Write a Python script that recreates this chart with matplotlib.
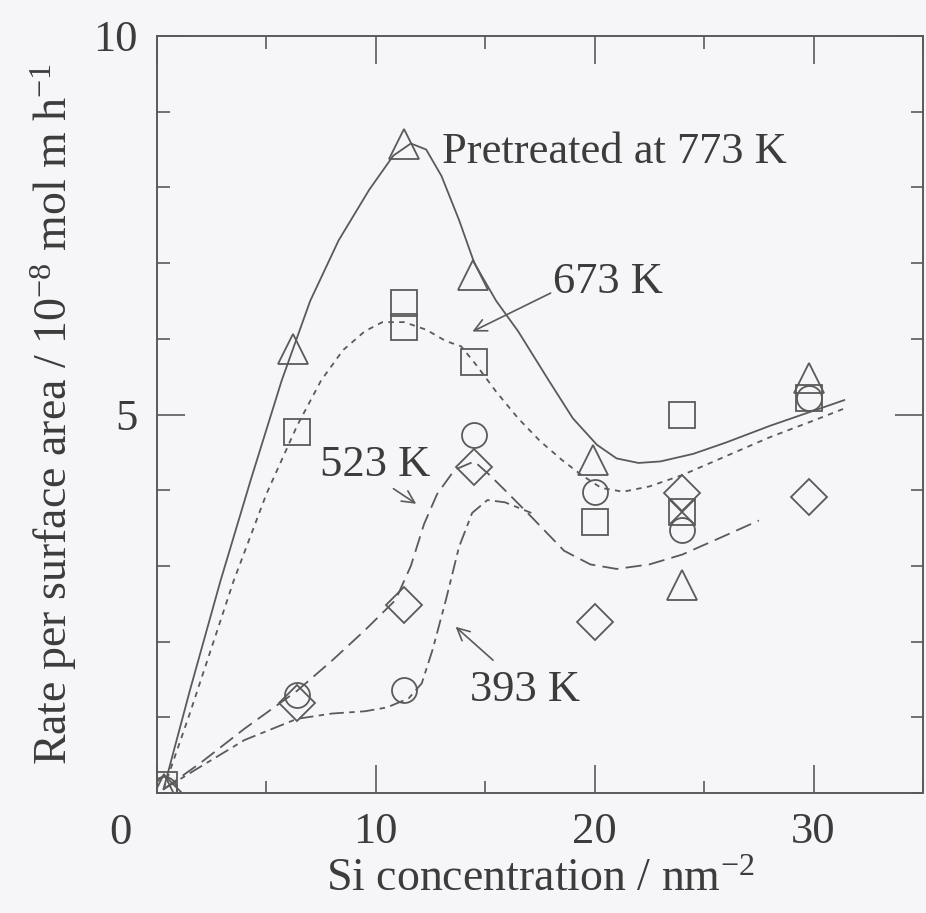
import numpy as np
import matplotlib
matplotlib.use("Agg")
from matplotlib import pyplot as plt
from matplotlib.ticker import MultipleLocator
from matplotlib.transforms import ScaledTranslation

# measured points (Si concentration / nm^-2, rate)
x_773 = [0.3, 6.2, 11.3, 14.45, 19.9, 24.0, 29.8]
y_773 = [0.05, 5.87, 8.57, 6.84, 4.40, 2.75, 5.48]

x_673 = [0.3, 6.4, 11.3, 11.3, 14.5, 20.0, 24.0, 29.8]
y_673 = [0.10, 4.77, 6.47, 6.16, 5.69, 3.58, 4.99, 5.22]

x_523 = [0.3, 6.4, 11.3, 14.5, 20.0, 24.0, 29.8]
y_523 = [0.0, 1.19, 2.48, 4.30, 2.26, 3.96, 3.91]

x_393 = [0.3, 6.4, 11.3, 14.5, 20.0, 24.0, 29.8]
y_393 = [0.05, 1.30, 1.36, 4.73, 3.97, 3.47, 5.22]

x_cross = [24.0]
y_cross = [3.71]

x_ticks = [0, 10, 20, 30]
x_ticklabels = ['', '10', '20', '30']
y_ticks = [5, 10]
y_ticklabels = ['5', '10']

# hand drawn guide curves
cx_773 = [0.3, 1.5, 2.9, 4.3, 5.7, 7.0, 8.3, 9.7, 10.8, 11.6, 12.3, 13.0, 13.8, 14.5, 15.5,
          16.5, 17.9, 19.0, 20.1, 21.0, 22.0, 23.0, 24.5, 26.0, 28.0, 30.0, 31.4]
cy_773 = [0.05, 1.35, 2.8, 4.15, 5.45, 6.5, 7.3, 7.97, 8.42, 8.58, 8.5, 8.15, 7.57, 7.0, 6.5,
          6.1, 5.45, 4.95, 4.6, 4.42, 4.36, 4.38, 4.48, 4.63, 4.85, 5.05, 5.19]

cx_673 = [0.3, 1.5, 3.5, 5.0, 6.4, 7.5, 8.5, 9.5, 10.3, 11.3, 12.3, 13.2, 13.9, 14.6, 15.5,
          16.5, 17.5, 18.5, 19.4, 20.3, 21.3, 22.5, 24.0, 26.0, 28.0, 30.0, 31.5]
cy_673 = [0.05, 1.05, 2.8, 3.95, 4.85, 5.45, 5.85, 6.1, 6.22, 6.22, 6.12, 5.97, 5.9, 5.65, 5.3,
          4.95, 4.65, 4.4, 4.2, 4.03, 3.98, 4.05, 4.2, 4.45, 4.7, 4.92, 5.09]

cx_523 = [0.3, 2.0, 4.0, 6.4, 8.0, 9.5, 10.9, 11.6, 12.2, 12.8, 13.6, 14.5, 15.2, 15.9, 17.1,
          18.6, 19.8, 21.0, 22.5, 24.0, 25.8, 27.5]
cy_523 = [0.05, 0.4, 0.85, 1.35, 1.75, 2.15, 2.55, 3.0, 3.55, 3.95, 4.27, 4.38, 4.2, 4.0, 3.65,
          3.2, 3.02, 2.96, 3.02, 3.15, 3.38, 3.6]

cx_393 = [0.3, 2.0, 4.0, 6.4, 8.0, 9.5, 10.5, 11.5, 12.1, 12.6, 13.2, 13.8, 14.4, 15.1, 15.9, 17.1]
cy_393 = [0.05, 0.35, 0.7, 0.98, 1.05, 1.08, 1.13, 1.25, 1.45, 1.9, 2.55, 3.25, 3.7, 3.87, 3.84, 3.7]

plt.rcParams['font.family'] = ['Liberation Serif', 'DejaVu Serif']
plt.rcParams['mathtext.fontset'] = 'custom'
plt.rcParams['mathtext.rm'] = 'Liberation Serif'
plt.rcParams['mathtext.default'] = 'regular'
grey = '#5a5a5a'
text_c = '#3c3c3c'

fig = plt.figure(figsize=(9.26, 9.13), dpi=100, facecolor='#f6f5f7')
ax = fig.add_axes([0.1695, 0.1314, 0.8273, 0.8292])
ax.set_facecolor('#f6f5f7')

ax.plot(cx_773, cy_773, color=grey, lw=1.3, ls='-')
ax.plot(cx_673, cy_673, color=grey, lw=1.3, ls=(0, (3, 3)))
ax.plot(cx_523, cy_523, color=grey, lw=1.3, ls=(0, (9, 4)))
ax.plot(cx_393, cy_393, color=grey, lw=1.3, ls=(0, (8, 3, 3, 3)))

mk = dict(ls='none', mfc='none', mec=grey, mew=1.3)
ax.plot(x_773, y_773, marker='^', ms=21, **mk)
ax.plot(x_673, y_673, marker='s', ms=19, **mk)
ax.plot(x_523, y_523, marker='D', ms=18, **mk)
ax.plot(x_393, y_393, marker='o', ms=18, **mk)
ax.plot(x_cross, y_cross, marker='s', ms=19, **mk)
ax.plot(x_cross, y_cross, marker='x', ms=17, **mk)

ax.set_xlim(0, 35)
ax.set_ylim(0, 10)
ax.set_xticks(x_ticks)
ax.set_xticklabels(x_ticklabels)
ax.xaxis.set_minor_locator(MultipleLocator(5))
ax.yaxis.set_minor_locator(MultipleLocator(1))
ax.set_yticks(y_ticks)
ax.set_yticklabels(y_ticklabels)
ax.tick_params(which='both', direction='in', top=True, right=True, color=grey,
               labelsize=32, labelcolor=text_c, pad=14)
ax.tick_params(which='major', length=20, width=1.2)
ax.tick_params(which='minor', length=9, width=1.2)
for s in ax.spines.values():
    s.set_color(grey)
    s.set_linewidth(1.4)

# the corner "0" stands well left of the origin
ax.text(0, 0, '0', fontsize=32, color=text_c, ha='center', va='top',
        transform=ax.transData + ScaledTranslation(-0.37, -0.2, fig.dpi_scale_trans))

ax.set_xlabel('Si concentration / nm$^{-2}$', fontsize=33, color=text_c, labelpad=4)
ax.set_ylabel('Rate per surface area / 10$^{-8}$ mol m h$^{-1}$', fontsize=33,
              color=text_c, labelpad=10)

tk = dict(fontsize=32, color=text_c, ha='center', va='center')
ax.text(20.9, 8.47, 'Pretreated at 773 K', **tk)
ax.text(20.6, 6.75, '673 K', **tk)
ax.text(9.95, 4.33, '523 K', **tk)
ax.text(16.8, 1.36, '393 K', **tk)

arr = dict(arrowstyle='->', color=grey, lw=1.2, mutation_scale=22)
ax.annotate('', xy=(14.3, 6.08), xytext=(18.1, 6.62), arrowprops=arr)
ax.annotate('', xy=(11.95, 3.8), xytext=(10.7, 4.04), arrowprops=arr)
ax.annotate('', xy=(13.55, 2.22), xytext=(15.45, 1.73), arrowprops=arr)

fig.savefig('out.png', dpi=100, facecolor=fig.get_facecolor())
